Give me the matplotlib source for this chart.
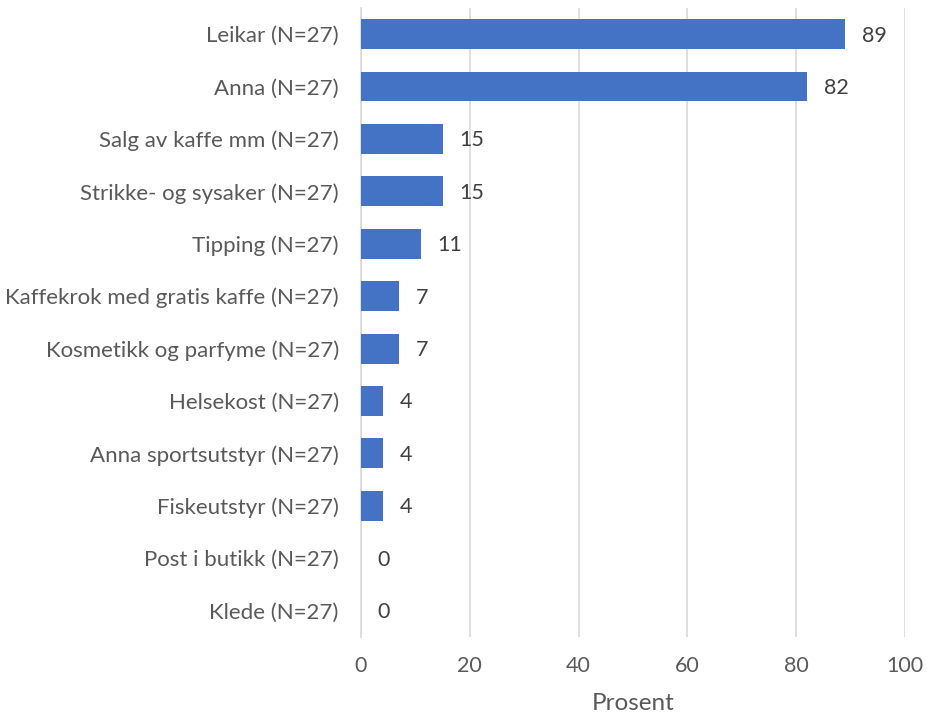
import matplotlib
matplotlib.use('Agg')
import matplotlib.pyplot as plt
import numpy as np

plt.rcParams['font.family'] = ['Lato', 'DejaVu Sans']

categories = ['Leikar (N=27)', 'Anna (N=27)', 'Salg av kaffe mm (N=27)',
              'Strikke- og sysaker (N=27)', 'Tipping (N=27)',
              'Kaffekrok med gratis kaffe (N=27)', 'Kosmetikk og parfyme (N=27)',
              'Helsekost (N=27)', 'Anna sportsutstyr (N=27)', 'Fiskeutstyr (N=27)',
              'Post i butikk (N=27)', 'Klede (N=27)']
values = [89, 82, 15, 15, 11, 7, 7, 4, 4, 4, 0, 0]
xticks = [0, 20, 40, 60, 80, 100]

bar_color = '#4472C4'
text_color = '#595959'
grid_color = '#D9D9D9'

fig = plt.figure(figsize=(9.28, 7.22), dpi=100)
ax = fig.add_axes([0.389, 0.118, 0.586, 0.871])

y = np.arange(len(categories))
ax.barh(y, values, height=0.57, color=bar_color, zorder=3)

for yi, v in zip(y, values):
    ax.annotate('{:d}'.format(v), (v, yi), textcoords='offset points',
                xytext=(12, -1), ha='left', va='center', fontsize=15.5,
                color='#404040')

ax.set_xlim(0, 100)
ax.set_ylim(len(categories) - 0.5, -0.5)
ax.set_yticks(y)
ax.set_yticklabels(categories)
ax.set_xticks(xticks)
ax.tick_params(axis='both', length=0, labelcolor=text_color)
ax.tick_params(axis='y', pad=16, labelsize=16)
ax.tick_params(axis='x', pad=14, labelsize=15.5)
ax.set_xlabel('Prosent', fontsize=17.5, color=text_color, labelpad=12)

ax.grid(axis='x', color=grid_color, linewidth=1.2, zorder=0)
for side in ['top', 'right', 'bottom']:
    ax.spines[side].set_visible(False)
ax.spines['left'].set_color(grid_color)
ax.spines['left'].set_linewidth(1.2)

fig.savefig('out.png', dpi=100)
